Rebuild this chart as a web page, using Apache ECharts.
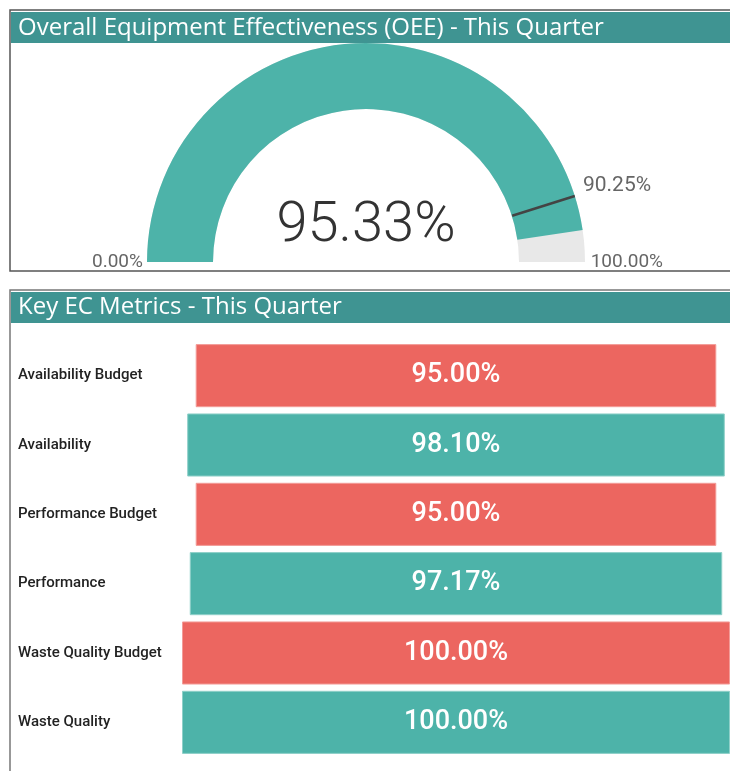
<!DOCTYPE html>
<html>
<head>
<meta charset="utf-8">
<script src="https://cdn.jsdelivr.net/npm/echarts@6/dist/echarts.min.js"></script>
<style>
  html, body { margin: 0; padding: 0; background: #fff; }
  #chart { width: 730px; height: 771px; }
</style>
</head>
<body>
<div id="chart"></div>
<script>
// gauge data
const oeeValue = 95.33;
const oeeTarget = 90.25;
const gaugeMin = 0;
const gaugeMax = 100;

// bar data
const metricNames = [
  "Availability Budget",
  "Availability",
  "Performance Budget",
  "Performance",
  "Waste Quality Budget",
  "Waste Quality"
];
const metricValues = [95.0, 98.1, 95.0, 97.17, 100.0, 100.0];
const metricIsBudget = [true, false, true, false, true, false];

const teal = "#4db3a9";
const red = "#ec6660";
const headerColor = "#3f9492";
const pct = (v) => v.toFixed(2) + "%";

const chart = echarts.init(document.getElementById("chart"));

const option = {
  animation: false,
  graphic: {
    elements: [
      // top panel frame + header
      { type: "rect", shape: { x: 10, y: 10, width: 730, height: 261 }, style: { fill: "none", stroke: "#555", lineWidth: 1.5 } },
      { type: "rect", shape: { x: 11, y: 12, width: 720, height: 31 }, style: { fill: headerColor } },
      { type: "text", left: 18, top: 16, style: { text: "Overall Equipment Effectiveness (OEE) - This Quarter", fill: "#fff", font: "24px 'Open Sans'" } },
      // bottom panel frame + header
      { type: "rect", shape: { x: 10, y: 290, width: 730, height: 500 }, style: { fill: "none", stroke: "#777", lineWidth: 1.5 } },
      { type: "rect", shape: { x: 11, y: 292, width: 720, height: 31 }, style: { fill: headerColor } },
      { type: "text", left: 18, top: 295, style: { text: "Key EC Metrics - This Quarter", fill: "#fff", font: "24px 'Open Sans'" } }
    ]
  },
  grid: { left: 182, right: -1, top: 341, height: 416 },
  xAxis: { type: "value", min: 0, max: 100, show: false },
  yAxis: {
    type: "category",
    inverse: true,
    data: metricNames,
    axisLine: { show: false },
    axisTick: { show: false },
    axisLabel: { align: "left", margin: 164, color: "#222", fontSize: 15, fontFamily: "Roboto", fontWeight: 500 }
  },
  series: [
    {
      type: "bar",
      stack: "m",
      silent: true,
      barCategoryGap: "9%",
      itemStyle: { color: "transparent" },
      data: metricValues.map((v) => (gaugeMax - v) / 2)
    },
    {
      type: "bar",
      stack: "m",
      barCategoryGap: "9%",
      data: metricValues.map((v, i) => ({
        value: v,
        itemStyle: {
          color: metricIsBudget[i] ? red : teal,
          borderColor: metricIsBudget[i] ? "#f39c98" : "#8fd0c9",
          borderWidth: 1
        }
      })),
      label: {
        show: true,
        position: "inside",
        color: "#fff",
        fontSize: 27,
        fontFamily: "Roboto",
        fontWeight: 500,
        formatter: (p) => pct(p.value)
      }
    },
    {
      type: "gauge",
      z: 2,
      center: [366, 262],
      radius: 219,
      startAngle: 180,
      endAngle: 0,
      min: gaugeMin,
      max: gaugeMax,
      splitNumber: 1,
      axisLine: { lineStyle: { width: 66, color: [[1, "#e8e8e8"]] } },
      progress: { show: true, width: 66, itemStyle: { color: teal } },
      pointer: { show: false },
      anchor: { show: false },
      axisTick: { show: false },
      splitLine: { show: false, length: 0, distance: 0 },
      // min label only here; max label comes from the target gauge
      axisLabel: {
        distance: -55,
        padding: [0, 0, 12, 0],
        color: "#666",
        fontSize: 19,
        fontFamily: "Roboto",
        formatter: (v) => (v === gaugeMin ? pct(v) : "")
      },
      title: { show: false },
      detail: {
        offsetCenter: [0, -35],
        color: "#333",
        fontSize: 56,
        fontFamily: "Roboto",
        fontWeight: 300,
        formatter: (v) => pct(v)
      },
      data: [{ value: oeeValue }]
    },
    {
      type: "gauge",
      z: 5,
      center: [366, 262],
      radius: 219,
      startAngle: 180,
      endAngle: 0,
      min: gaugeMin,
      max: gaugeMax,
      splitNumber: 1,
      axisLine: { show: false },
      progress: { show: false },
      axisTick: { show: false },
      splitLine: { show: false, length: 0, distance: 0 },
      axisLabel: {
        distance: -78,
        padding: [0, 0, 12, 0],
        color: "#666",
        fontSize: 19,
        fontFamily: "Roboto",
        formatter: (v) => (v === gaugeMax ? pct(v) : "")
      },
      anchor: { show: false },
      pointer: {
        show: true,
        // only the outer 30% of the pointer is drawn so it sits across the ring
        icon: "path://M0,0 L10,0 L10,30 L0,30 Z M0,99.9 L0,100",
        length: "100%",
        width: 2.5,
        itemStyle: { color: "#444" }
      },
      title: { show: false },
      detail: {
        offsetCenter: [251, -76],
        color: "#666",
        fontSize: 21,
        fontWeight: "normal",
        fontFamily: "Roboto",
        formatter: (v) => pct(v)
      },
      data: [{ value: oeeTarget }]
    }
  ]
};

chart.setOption(option);
</script>
</body>
</html>
